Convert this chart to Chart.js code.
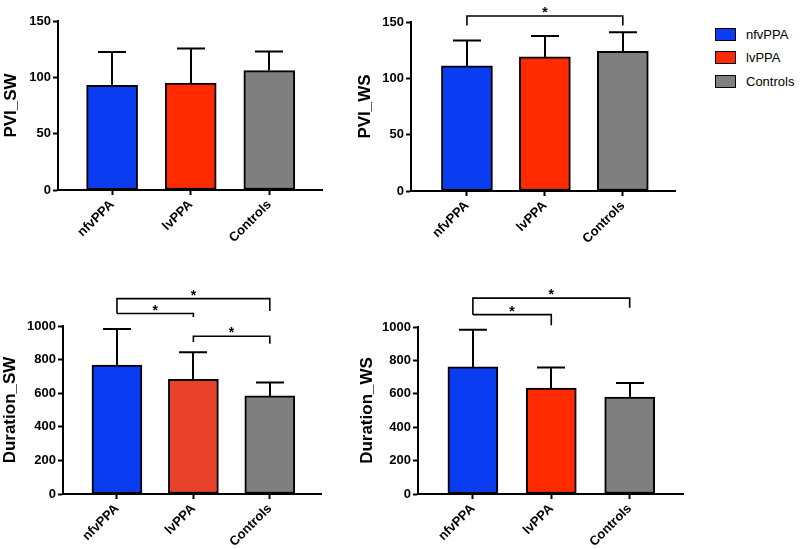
<!DOCTYPE html>
<html>
<head>
<meta charset="utf-8">
<script src="https://cdn.jsdelivr.net/npm/chart.js@4.4.0/dist/chart.umd.min.js"></script>
<style>
  html, body { margin:0; padding:0; background:#fff; }
  body { width:800px; height:549px; position:relative; overflow:hidden; font-family:"Liberation Sans", Arial, sans-serif; }
  canvas { position:absolute; }
  .lg { position:absolute; left:715px; height:16px; display:flex; align-items:center; font-size:13px; color:#000; }
  .lg span.box { width:19px; height:11px; border:1.5px solid #000; margin-right:10px; display:inline-block; }
</style>
</head>
<body>
<canvas id="c1" width="330" height="250" style="left:0;top:0"></canvas>
<canvas id="c2" width="345" height="250" style="left:340px;top:0"></canvas>
<canvas id="c3" width="330" height="279" style="left:0;top:270px"></canvas>
<canvas id="c4" width="345" height="279" style="left:350px;top:270px"></canvas>
<div id="legend"></div>
<script>
// ---- data ----
const categories = ["nfvPPA", "lvPPA", "Controls"];
const pviSwMeans = [93, 95, 106];
const pviSwSD = [29.5, 30.5, 17];
const pviWsMeans = [111, 119, 124];
const pviWsSD = [22.5, 18.5, 17];
const durSwMeans = [768, 683, 584];
const durSwSD = [214, 161, 80];
const durWsMeans = [761, 635, 581];
const durWsSD = [223, 122, 84];
const pviTicks = [0, 50, 100, 150];
const durTicks = [0, 200, 400, 600, 800, 1000];
// significance brackets: from index, to index, level, left leg end, right leg end
const pviWsBrackets = [{ a:0, b:2, level:155.3, la:147, lb:147, label:"*" }];
const durSwBrackets = [
  { a:0, b:2, level:1163, la:1074, lb:1089, label:"*" },
  { a:0, b:1, level:1074, la:1074, lb:1053, label:"*" },
  { a:1, b:2, level:939, la:905, lb:895, label:"*" }
];
const durWsBrackets = [
  { a:0, b:2, level:1173, la:1074, lb:1116, label:"*" },
  { a:0, b:1, level:1074, la:1074, lb:1010, label:"*" }
];

const BLUE = "#0a3cf2", RED = "#ff2a00", RED2 = "#e8432a", GRAY = "#7f7f7f";
const FONT = "'Liberation Sans', Arial, Helvetica, sans-serif";

const errPlugin = {
  id: "errbars",
  afterDatasetsDraw(chart) {
    const o = chart.options.plugins.errbars;
    const { ctx } = chart;
    const x = chart.scales.x, y = chart.scales.y;
    ctx.save();
    ctx.strokeStyle = "#000";
    ctx.lineWidth = 2;
    ctx.lineCap = "butt";
    o.means.forEach((m, i) => {
      const cx = Math.round(x.getPixelForValue(i));
      const y0 = y.getPixelForValue(m);
      const y1 = y.getPixelForValue(m + o.sd[i]);
      ctx.beginPath();
      ctx.moveTo(cx, y0);
      ctx.lineTo(cx, y1);
      ctx.moveTo(cx - 14, y1);
      ctx.lineTo(cx + 14, y1);
      ctx.stroke();
    });
    ctx.lineWidth = 1.6;
    ctx.fillStyle = "#000";
    ctx.font = "bold 14px " + FONT;
    ctx.textAlign = "center";
    ctx.textBaseline = "alphabetic";
    (o.brackets || []).forEach(b => {
      const xa = x.getPixelForValue(b.a), xb = x.getPixelForValue(b.b);
      const py = y.getPixelForValue(b.level);
      ctx.beginPath();
      ctx.moveTo(xa, y.getPixelForValue(b.la));
      ctx.lineTo(xa, py);
      ctx.lineTo(xb, py);
      ctx.lineTo(xb, y.getPixelForValue(b.lb));
      ctx.stroke();
      ctx.fillText(b.label, (xa + xb) / 2, py + 1);
    });
    ctx.restore();
  }
};

function makeChart(id, cfg) {
  const data = cfg.means.map((v, i) => ({ x: i, y: v }));
  return new Chart(document.getElementById(id), {
    type: "bar",
    data: {
      datasets: [{
        data,
        backgroundColor: cfg.colors,
        borderColor: "#000",
        borderWidth: 2,
        borderSkipped: false,
        barThickness: cfg.barW
      }]
    },
    plugins: [errPlugin],
    options: {
      responsive: false,
      animation: false,
      events: [],
      layout: { padding: { top: cfg.padTop, right: cfg.padRight, left: 0, bottom: 0 } },
      plugins: {
        legend: { display: false },
        tooltip: { enabled: false },
        errbars: { means: cfg.means, sd: cfg.sd, brackets: cfg.brackets }
      },
      scales: {
        x: {
          type: "linear",
          offset: false,
          bounds: "ticks",
          min: cfg.xmin,
          max: cfg.xmax,
          afterBuildTicks: s => { s.ticks = categories.map((c, i) => ({ value: i })); },
          afterFit: s => { s.height = cfg.xh; },
          ticks: {
            callback: v => categories[v],
            minRotation: 45, maxRotation: 45,
            color: "#000",
            font: { family: FONT, size: 13, weight: "bold" },
            padding: 2
          },
          grid: { offset: false, drawOnChartArea: false, drawTicks: true, tickLength: 5, tickColor: "#000", tickWidth: 2 },
          border: { display: true, color: "#000", width: 2 }
        },
        y: {
          min: 0,
          max: cfg.ticks[cfg.ticks.length - 1],
          afterBuildTicks: s => { s.ticks = cfg.ticks.map(v => ({ value: v })); },
          afterFit: s => { s.width = cfg.yw; },
          ticks: {
            callback: v => String(v),
            color: "#000",
            font: { family: FONT, size: 13, weight: "bold" },
            padding: 2
          },
          grid: { drawOnChartArea: false, drawTicks: true, tickLength: 5, tickColor: "#000", tickWidth: 2 },
          border: { display: true, color: "#000", width: 2 },
          title: {
            display: true,
            text: cfg.title,
            color: "#000",
            font: { family: FONT, size: 17, weight: "bold", lineHeight: 1.2 },
            padding: { top: cfg.titlePad, bottom: 0 }
          }
        }
      }
    }
  });
}

makeChart("c1", { means: pviSwMeans, sd: pviSwSD, brackets: [], colors: [BLUE, RED, GRAY],
  ticks: pviTicks, title: "PVI_SW", barW: 51, padTop: 21, padRight: 8, xh: 60, yw: 58,
  xmin: -0.688, xmax: 2.67, titlePad: 1 });
makeChart("c2", { means: pviWsMeans, sd: pviWsSD, brackets: pviWsBrackets, colors: [BLUE, RED, GRAY],
  ticks: pviTicks, title: "PVI_WS", barW: 51, padTop: 22, padRight: 10, xh: 59, yw: 71,
  xmin: -0.718, xmax: 2.67, titlePad: 15 });
makeChart("c3", { means: durSwMeans, sd: durSwSD, brackets: durSwBrackets, colors: [BLUE, RED2, GRAY],
  ticks: durTicks, title: "Duration_SW", barW: 50, padTop: 56, padRight: 9, xh: 55, yw: 63,
  xmin: -0.706, xmax: 2.67, titlePad: 0 });
makeChart("c4", { means: durWsMeans, sd: durWsSD, brackets: durWsBrackets, colors: [BLUE, RED, GRAY],
  ticks: durTicks, title: "Duration_WS", barW: 50, padTop: 57, padRight: 12, xh: 55, yw: 68,
  xmin: -0.70, xmax: 2.68, titlePad: 7 });

// legend
const legendColors = [BLUE, RED, GRAY];
const legendTops = [26, 49.5, 73];
const lg = document.getElementById("legend");
categories.forEach((c, i) => {
  const d = document.createElement("div");
  d.className = "lg";
  d.style.top = legendTops[i] + "px";
  d.innerHTML = '<span class="box" style="background:' + legendColors[i] + '"></span>' + c;
  lg.appendChild(d);
});
</script>
</body>
</html>
